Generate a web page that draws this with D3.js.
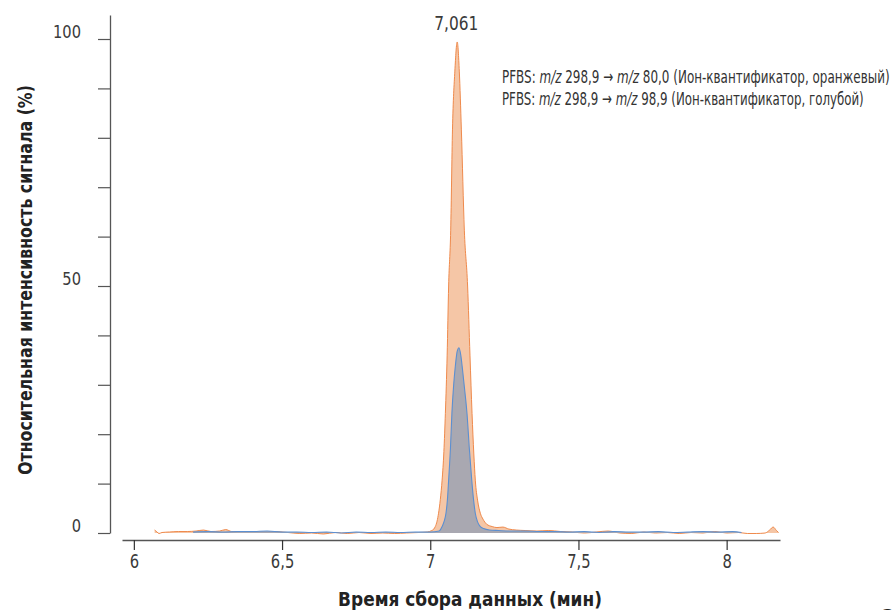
<!DOCTYPE html>
<html>
<head>
<meta charset="utf-8">
<script src="https://cdn.jsdelivr.net/npm/d3@7"></script>
<style>
  body { margin: 0; background: #fff; }
  text { font-family: "Liberation Sans Narrow", "DejaVu Sans Condensed", sans-serif; }
</style>
</head>
<body>
<div id="chart"></div>
<script>
// quantifier ion (orange), time in min and relative intensity in %
var orangeTime = [6.070, 6.078, 6.085, 6.095, 6.12, 6.15, 6.18, 6.21, 6.235, 6.26, 6.29, 6.31, 6.33, 6.37, 6.42, 6.47,
  6.52, 6.56, 6.60, 6.64, 6.68, 6.72, 6.76, 6.80, 6.84, 6.88, 6.92, 6.96, 6.99, 7.005, 7.012, 7.017, 7.023, 7.028,
  7.034, 7.040, 7.046, 7.051, 7.057, 7.062, 7.069, 7.075, 7.083, 7.091, 7.098, 7.105, 7.115, 7.126, 7.134, 7.141,
  7.147, 7.152, 7.160, 7.169, 7.178, 7.190, 7.209, 7.225, 7.245, 7.265, 7.29, 7.32, 7.36, 7.40, 7.44, 7.48, 7.52,
  7.56, 7.60, 7.64, 7.68, 7.72, 7.76, 7.80, 7.84, 7.88, 7.92, 7.96, 8.00, 8.04, 8.07, 8.10, 8.13, 8.145, 8.157,
  8.168, 8.175];
var orangeSignal = [0.6, 0.2, -0.1, 0.1, 0.2, 0.3, 0.3, 0.4, 0.6, 0.3, 0.4, 0.7, 0.3, 0.3, 0.2, 0.3,
  0.1, -0.1, 0.0, -0.2, 0.1, -0.1, 0.1, -0.1, 0.0, -0.1, 0.0, 0.1, 0.2, 0.5, 0.8, 1.3, 2.4, 4,
  6.8, 10.7, 16.5, 24.2, 36, 50, 61.3, 81.6, 93.5, 99.4, 93.5, 81.6, 61.3, 50, 36, 24.2,
  16, 10.7, 6.5, 4, 2.8, 1.8, 1.3, 1.1, 1.2, 0.8, 0.6, 0.5, 0.4, 0.5, 0.3, 0.2, 0.0,
  0.2, 0.4, 0.0, -0.1, 0.2, 0.0, 0.1, -0.1, 0.1, 0.0, 0.3, 0.0, 0.1, -0.1, -0.1, 0.0, 0.6, 1.2,
  0.5, 0.1];

// qualifier ion (blue)
var blueTime = [6.20, 6.25, 6.30, 6.35, 6.40, 6.45, 6.50, 6.55, 6.60, 6.65, 6.70, 6.75, 6.80, 6.85, 6.90, 6.95,
  7.00, 7.03, 7.040, 7.047, 7.053, 7.058, 7.062, 7.068, 7.073, 7.079, 7.085, 7.091, 7.097, 7.103, 7.109, 7.117,
  7.124, 7.132, 7.140, 7.146, 7.152, 7.160, 7.169, 7.18, 7.20, 7.23, 7.27, 7.32, 7.37, 7.42, 7.47, 7.52, 7.57,
  7.62, 7.67, 7.72, 7.77, 7.82, 7.87, 7.92, 7.97, 8.02, 8.05];
var blueSignal = [0.2, 0.3, 0.2, 0.3, 0.3, 0.4, 0.2, 0.2, 0.1, 0.2, 0.0, 0.2, 0.1, 0.2, 0.1, 0.2,
  0.2, 0.4, 1.3, 2.4, 4, 6.8, 10.7, 17, 24.2, 30, 34, 36.8, 37.5, 36, 33, 28.5,
  24.2, 17, 10.7, 6.8, 4, 2.2, 1.3, 0.9, 0.6, 0.5, 0.4, 0.4, 0.3, 0.3, 0.2, 0.3, 0.1,
  0.3, 0.2, 0.2, 0.3, 0.1, 0.2, 0.3, 0.2, 0.3, 0.1];

var xTicks = [6, 6.5, 7, 7.5, 8];
var yTicks = [0, 10, 20, 30, 40, 50, 60, 70, 80, 90, 100];
var yLabelTicks = [0, 50, 100];
var peakLabel = { time: 7.091, value: 99.4, text: "7,061" };
var legendLines = [
  { ions: "298,9", frag: "80,0", note: "(Ион-квантификатор, оранжевый)" },
  { ions: "298,9", frag: "98,9", note: "(Ион-квантификатор, голубой)" }
];

const w = 893, h = 610;
const svg = d3.select("#chart").append("svg").attr("width", w).attr("height", h);

const xScale = d3.scaleLinear().domain([5.96, 8.18]).range([122, 780]);
const yScale = d3.scaleLinear().domain([0, 104.86]).range([533, 15]);

// no narrow font here, so squeeze text horizontally about its anchor x
function squeeze(node, k, ax) {
  d3.select(node).attr("transform", "translate(" + ax + ",0) scale(" + k + ",1) translate(" + (-ax) + ",0)");
}
function fitWidth(node, target, ax) {
  var wNow = node.getComputedTextLength();
  squeeze(node, target / wNow, ax);
}

function toPoints(ts, vs) {
  return ts.map(function(t, i) { return { t: t, v: vs[i] }; });
}
var orange = toPoints(orangeTime, orangeSignal);
var blue = toPoints(blueTime, blueSignal);

const area = d3.area()
  .x(d => xScale(d.t))
  .y0(yScale(0))
  .y1(d => yScale(d.v))
  .curve(d3.curveMonotoneX);
const line = d3.line()
  .x(d => xScale(d.t))
  .y(d => yScale(d.v))
  .curve(d3.curveMonotoneX);

// orange trace first, blue on top
svg.append("path").datum(orange).attr("d", area).attr("fill", "#f5c6a6");
svg.append("path").datum(orange).attr("d", line)
  .attr("fill", "none").attr("stroke", "#ef8a4c").attr("stroke-width", 1);
svg.append("path").datum(blue).attr("d", area).attr("fill", "#a9a8b1");
svg.append("path").datum(blue).attr("d", line)
  .attr("fill", "none").attr("stroke", "#5b8fd1").attr("stroke-width", 1.1);

// y axis
const yAxis = svg.append("g")
  .attr("transform", "translate(110,0)")
  .call(d3.axisLeft(yScale).tickValues(yTicks).tickSize(12).tickSizeOuter(0).tickFormat(""));
yAxis.select(".domain").attr("stroke", "#555").attr("stroke-width", 1.3);
yAxis.selectAll(".tick line").attr("stroke", "#555").attr("stroke-width", 1.2);

svg.selectAll(".ylab")
  .data(yLabelTicks)
  .enter()
  .append("text")
  .attr("x", 81)
  .attr("y", d => yScale(d) - 1)
  .attr("text-anchor", "end")
  .attr("fill", "#3a3a3a")
  .style("font-size", "18.5px")
  .text(d => d)
  .each(function() { squeeze(this, 0.88, 81); });

// x axis
const xAxis = svg.append("g")
  .attr("transform", "translate(0,540)")
  .call(d3.axisBottom(xScale).tickValues(xTicks).tickSize(10).tickSizeOuter(0)
    .tickFormat(d => String(d).replace(".", ",")));
xAxis.select(".domain").attr("stroke", "#555").attr("stroke-width", 1.6);
xAxis.selectAll(".tick line").attr("stroke", "#333").attr("stroke-width", 1.2);
xAxis.selectAll(".tick text")
  .attr("y", 14)
  .attr("fill", "#3a3a3a")
  .style("font-size", "20px")
  .style("font-family", "'Liberation Sans Narrow', 'DejaVu Sans Condensed', sans-serif")
  .each(function() { squeeze(this, 0.82, 0); });

// axis titles
var yTitle = svg.append("g").attr("transform", "translate(32,280) rotate(-90)");
yTitle.append("text")
  .attr("x", 0)
  .attr("y", 0)
  .attr("text-anchor", "middle")
  .attr("fill", "#222")
  .style("font-size", "19px")
  .style("font-weight", "bold")
  .text("Относительная интенсивность сигнала (%)")
  .each(function() { fitWidth(this, 390, 0); });

svg.append("text")
  .attr("x", 470)
  .attr("y", 606)
  .attr("text-anchor", "middle")
  .attr("fill", "#222")
  .style("font-size", "20px")
  .style("font-weight", "bold")
  .text("Время сбора данных (мин)")
  .each(function() { fitWidth(this, 264, 470); });

// peak label
var px = xScale(peakLabel.time) - 1;
svg.append("text")
  .attr("x", px)
  .attr("y", yScale(peakLabel.value) - 12)
  .attr("text-anchor", "middle")
  .attr("fill", "#3a3a3a")
  .style("font-size", "20px")
  .text(peakLabel.text)
  .each(function() { fitWidth(this, 44, px); });

// legend
var legWidths = [388, 362];
var leg = svg.selectAll(".leg")
  .data(legendLines)
  .enter()
  .append("text")
  .attr("x", 502)
  .attr("y", (d, i) => 83 + i * 22)
  .attr("fill", "#333")
  .style("font-size", "18px");
leg.append("tspan").text("PFBS: ");
leg.append("tspan").style("font-style", "italic").text("m/z");
leg.append("tspan").text(d => " " + d.ions + " → ");
leg.append("tspan").style("font-style", "italic").text("m/z");
leg.append("tspan").text(d => " " + d.frag + " " + d.note);
leg.each(function(d, i) { fitWidth(this, legWidths[i], 502); });

// page number, cut by the frame
svg.append("text")
  .attr("x", 882)
  .attr("y", 623)
  .attr("fill", "#222")
  .style("font-size", "19px")
  .style("font-weight", "bold")
  .text("3");
</script>
</body>
</html>
